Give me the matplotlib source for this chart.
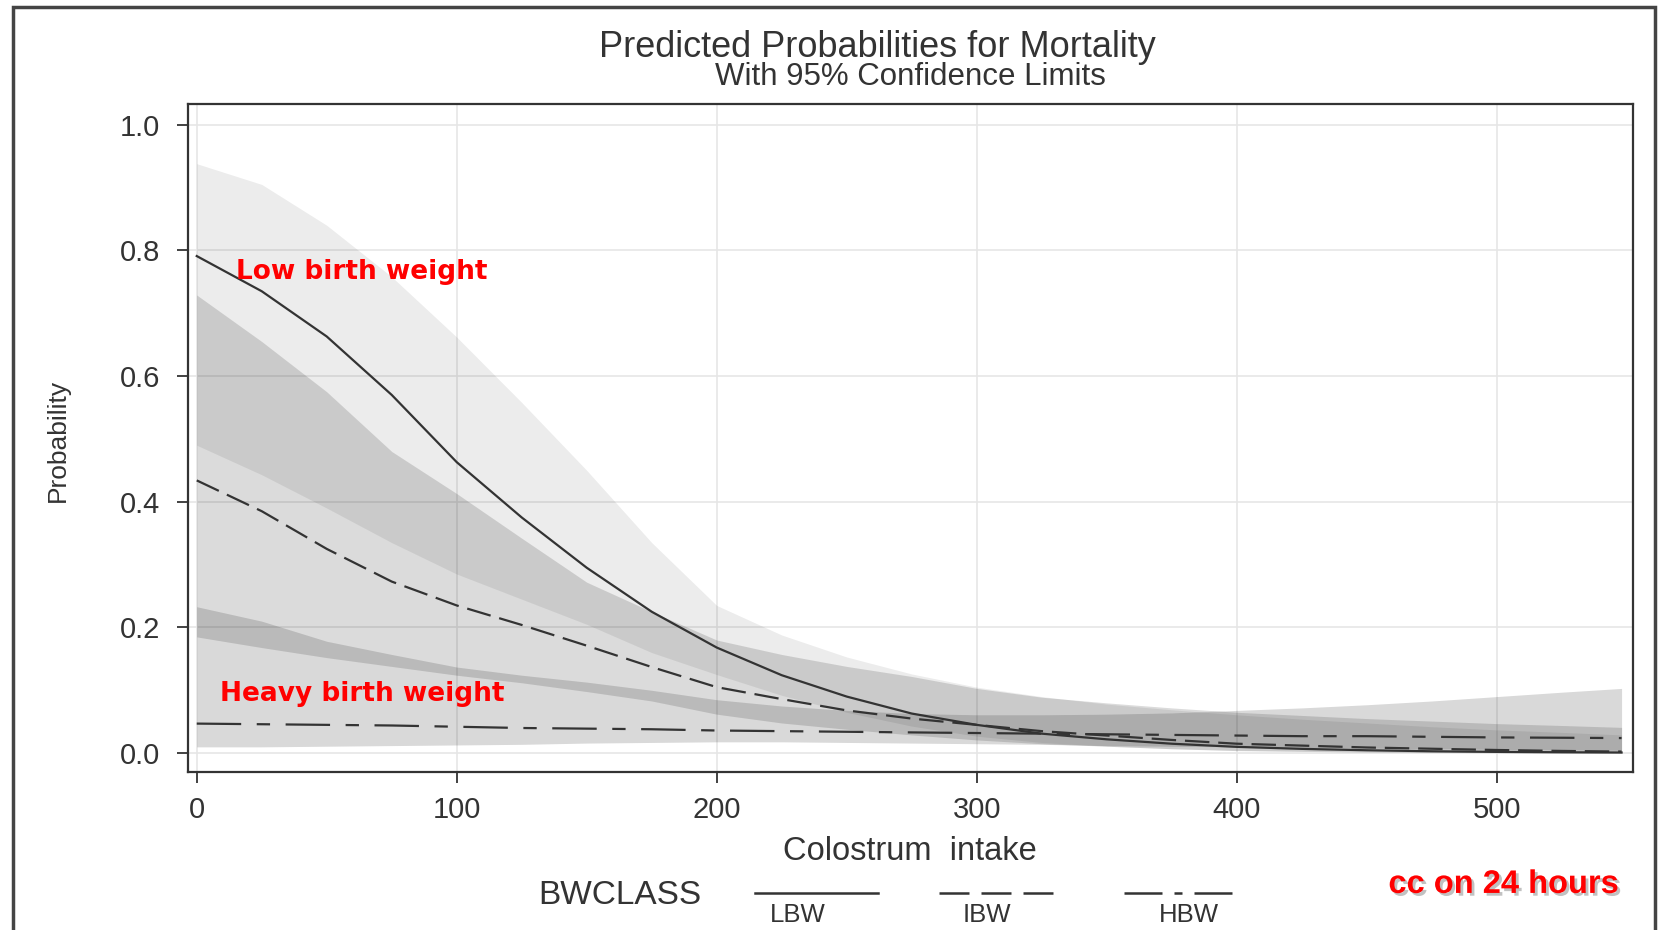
import numpy as np
import matplotlib.pyplot as plt
import matplotlib.patches as patches
import matplotlib.patheffects as pe
from matplotlib.lines import Line2D

# colostrum intake (cc on 24 hours)
intake = [0, 25, 50, 75, 100, 125, 150, 175, 200, 225, 250, 275, 300,
          325, 350, 375, 400, 425, 450, 475, 500, 525, 548]

# predicted probabilities
lbw = [0.791, 0.735, 0.663, 0.570, 0.463, 0.375, 0.295, 0.225, 0.168, 0.124, 0.090, 0.063,
       0.045, 0.031, 0.022, 0.015, 0.010, 0.0068, 0.0046, 0.003, 0.002, 0.0014, 0.001]
lbw_hi = [0.938, 0.905, 0.840, 0.758, 0.662, 0.558, 0.450, 0.335, 0.235, 0.188, 0.153, 0.126,
          0.105, 0.090, 0.078, 0.069, 0.061, 0.054, 0.048, 0.042, 0.037, 0.033, 0.029]
lbw_lo = [0.490, 0.443, 0.390, 0.335, 0.285, 0.245, 0.205, 0.160, 0.125, 0.092, 0.065, 0.043,
          0.027, 0.017, 0.011, 0.007, 0.0045, 0.003, 0.002, 0.0012, 0.0008, 0.0005, 0.0003]

ibw = [0.434, 0.385, 0.325, 0.273, 0.235, 0.204, 0.171, 0.137, 0.105, 0.086, 0.068, 0.055,
       0.045, 0.035, 0.028, 0.021, 0.015, 0.012, 0.009, 0.007, 0.005, 0.0035, 0.0025]
ibw_hi = [0.729, 0.655, 0.575, 0.480, 0.413, 0.342, 0.272, 0.225, 0.180, 0.157, 0.138, 0.122,
          0.103, 0.089, 0.080, 0.072, 0.065, 0.060, 0.055, 0.051, 0.047, 0.044, 0.041]
ibw_lo = [0.185, 0.168, 0.152, 0.138, 0.124, 0.112, 0.098, 0.083, 0.062, 0.048, 0.038, 0.029,
          0.021, 0.015, 0.011, 0.007, 0.004, 0.0028, 0.0018, 0.0012, 0.0008, 0.0005, 0.0003]

hbw = [0.047, 0.046, 0.045, 0.044, 0.042, 0.040, 0.039, 0.038, 0.036, 0.035, 0.034, 0.033,
       0.032, 0.031, 0.030, 0.029, 0.028, 0.027, 0.027, 0.026, 0.025, 0.0245, 0.024]
hbw_hi = [0.233, 0.210, 0.178, 0.157, 0.137, 0.124, 0.113, 0.100, 0.085, 0.075, 0.068, 0.063,
          0.061, 0.061, 0.062, 0.064, 0.068, 0.072, 0.077, 0.083, 0.090, 0.097, 0.103]
hbw_lo = [0.010, 0.010, 0.011, 0.012, 0.013, 0.014, 0.016, 0.017, 0.018, 0.018, 0.017, 0.016,
          0.015, 0.014, 0.012, 0.011, 0.010, 0.009, 0.008, 0.007, 0.006, 0.005, 0.0045]

xticks = [0, 100, 200, 300, 400, 500]
yticks = [0.0, 0.2, 0.4, 0.6, 0.8, 1.0]
classes = ['LBW', 'IBW', 'HBW']

ink = '#333333'
font = 'Liberation Sans'
dash = (0, (11, 4))
dashdot = (0, (20, 7, 6, 7))

fig = plt.figure(figsize=(16.62, 9.30), dpi=100)
ax = fig.add_axes([0.1129, 0.1699, 0.8695, 0.7183])

ax.fill_between(intake, hbw_lo, hbw_hi, color='black', alpha=0.15, lw=0)
ax.fill_between(intake, ibw_lo, ibw_hi, color='black', alpha=0.14, lw=0)
ax.fill_between(intake, lbw_lo, lbw_hi, color='black', alpha=0.075, lw=0)

ax.plot(intake, hbw, color=ink, lw=1.6, linestyle=dashdot)
ax.plot(intake, ibw, color=ink, lw=1.6, linestyle=dash)
ax.plot(intake, lbw, color=ink, lw=1.6)

ax.set_xlim(-3.5, 552.3)
ax.set_ylim(-0.030, 1.033)
ax.set_xticks(xticks)
ax.set_yticks(yticks)
ax.set_yticklabels(['%.1f' % v for v in yticks])
for lab in ax.get_xticklabels() + ax.get_yticklabels():
    lab.set_family(font)
ax.grid(True, color='#e6e6e6', lw=1.2)
ax.set_axisbelow(True)
ax.tick_params(direction='out', length=8, width=1.3, colors=ink, labelsize=21, pad=9)
ax.tick_params(axis='y', pad=12)
for s in ax.spines.values():
    s.set_linewidth(1.6)
    s.set_color(ink)

ax.set_xlabel('Colostrum  intake', fontsize=23.5, family=font, color=ink, labelpad=9)
fig.text(0.035, 0.526, 'Probability', rotation=90, fontsize=19, family=font,
         color=ink, ha='center', va='center')

fig.text(0.528, 0.949, 'Predicted Probabilities for Mortality', fontsize=26,
         family=font, color=ink, ha='center', va='center')
fig.text(0.548, 0.917, 'With 95% Confidence Limits', fontsize=22.5,
         family=font, color=ink, ha='center', va='center')

# red annotations
ax.text(15, 0.765, 'Low birth weight', color='red', fontsize=19, fontweight='bold',
        ha='left', va='center')
ax.text(9, 0.094, 'Heavy birth weight', color='red', fontsize=19, fontweight='bold',
        ha='left', va='center')
fig.text(0.974, 0.049, 'cc on 24 hours', color='red', fontsize=23.5, fontweight='bold',
         family=font, ha='right', va='center',
         path_effects=[pe.withSimplePatchShadow(offset=(2, -2), shadow_rgbFace='#999999', alpha=0.6)])

# legend
fig.text(0.3237, 0.037, 'BWCLASS', fontsize=24, family=font, color=ink,
         ha='left', va='center')
samples = [(0.454, 0.528, '-', 'LBW', 0.480),
           (0.565, 0.634, (0, (12, 4.8)), 'IBW', 0.594),
           (0.676, 0.747, (0, (15.2, 4.8, 3.2, 4.8)), 'HBW', 0.7155)]
for x0, x1, ls, lab, xc in samples:
    fig.add_artist(Line2D([x0, x1], [0.040, 0.040], transform=fig.transFigure,
                          color=ink, lw=1.8, linestyle=ls))
    fig.text(xc, 0.0035, lab, fontsize=18.5, family=font, color=ink,
             ha='center', va='bottom')

# outer frame
fig.add_artist(patches.Rectangle((0.0078, -0.05), 0.988, 1.042, transform=fig.transFigure,
                                 fill=False, lw=2.5, edgecolor='#444444'))

fig.savefig('out.png', dpi=100)
